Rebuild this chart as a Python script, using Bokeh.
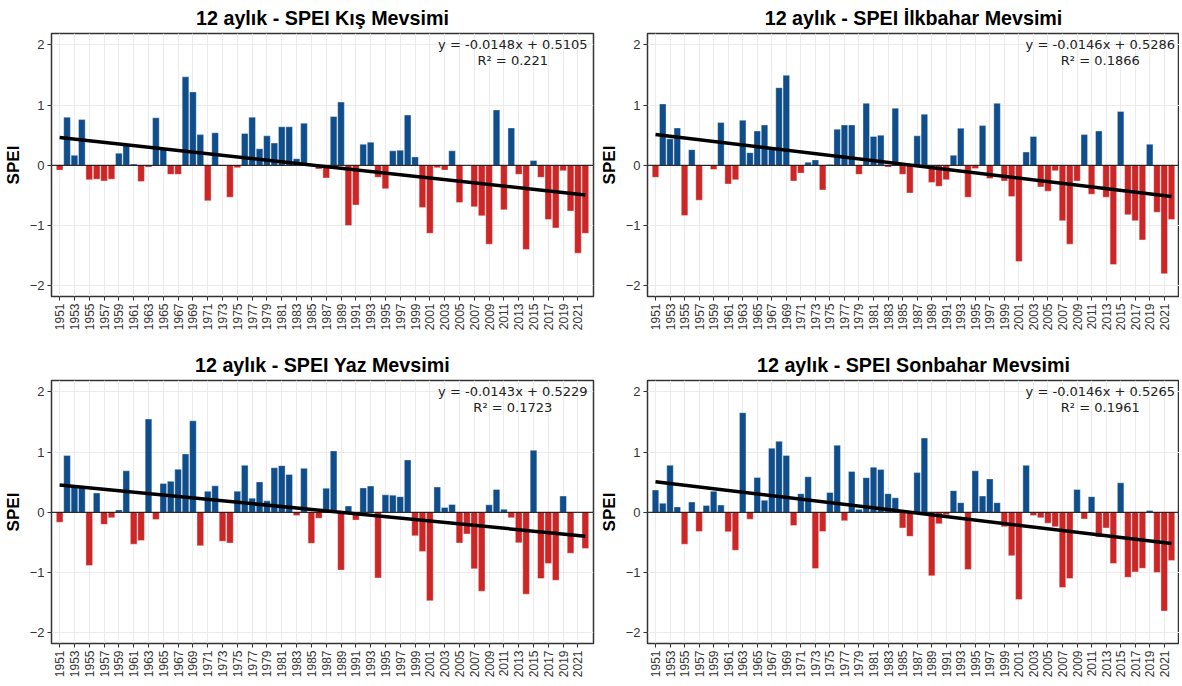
import numpy as np
from bokeh.plotting import figure
from bokeh.layouts import column, row
from bokeh.models import FixedTicker, Range1d, Span, Label, ColumnDataSource
from bokeh.embed import file_html
from bokeh.resources import INLINE

years = list(range(1951, 2023))

kis = [
    -0.08, 0.80, 0.165, 0.76, -0.24, -0.23, -0.26, -0.23, 0.20, 0.33,      # 1951-1960
    0.02, -0.27, -0.03, 0.79, 0.26, -0.15, -0.15, 1.47, 1.22, 0.51,        # 1961-1970
    -0.59, 0.54, -0.01, -0.53, -0.04, 0.53, 0.80, 0.275, 0.49, 0.37,       # 1971-1980
    0.64, 0.64, 0.11, 0.70, 0.01, -0.06, -0.21, 0.81, 1.05, -1.00,         # 1981-1990
    -0.66, 0.35, 0.385, -0.20, -0.39, 0.24, 0.25, 0.835, 0.14, -0.70,      # 1991-2000
    -1.13, -0.04, -0.08, 0.24, -0.62, 0.0, -0.69, -0.84, -1.31, 0.92,      # 2001-2010
    -0.74, 0.62, -0.15, -1.40, 0.08, -0.20, -0.90, -1.04, -0.09, -0.76,    # 2011-2020
    -1.46, -1.13,                                                          # 2021-2022
]

ilkbahar = [
    -0.20, 1.02, 0.44, 0.62, -0.835, 0.26, -0.58, -0.01, -0.07, 0.71,
    -0.31, -0.24, 0.75, 0.21, 0.57, 0.67, 0.27, 1.29, 1.495, -0.26,
    -0.13, 0.05, 0.09, -0.41, 0.015, 0.60, 0.67, 0.67, -0.15, 1.03,
    0.48, 0.50, -0.03, 0.95, -0.15, -0.46, 0.49, 0.85, -0.285, -0.35,
    -0.24, 0.165, 0.615, -0.53, -0.055, 0.66, -0.22, 1.03, -0.26, -0.52,
    -1.60, 0.22, 0.48, -0.36, -0.43, -0.09, -0.92, -1.31, -0.26, 0.51,
    -0.48, 0.57, -0.53, -1.65, 0.895, -0.82, -0.92, -1.24, 0.35, -0.78,
    -1.80, -0.90,
]

yaz = [
    -0.165, 0.945, 0.45, 0.41, -0.885, 0.32, -0.20, -0.09, 0.04, 0.69,
    -0.53, -0.47, 1.55, -0.12, 0.48, 0.515, 0.715, 0.97, 1.52, -0.555,
    0.35, 0.44, -0.48, -0.51, 0.35, 0.78, 0.235, 0.505, 0.19, 0.74,
    0.775, 0.63, -0.055, 0.73, -0.515, -0.10, 0.40, 1.02, -0.96, 0.105,
    -0.13, 0.405, 0.435, -1.09, 0.29, 0.285, 0.26, 0.87, -0.39, -0.65,
    -1.47, 0.42, 0.08, 0.13, -0.51, -0.36, -0.94, -1.31, 0.125, 0.38,
    0.05, -0.09, -0.505, -1.36, 1.03, -1.10, -0.85, -1.13, 0.27, -0.68,
    0.0, -0.60,
]

sonbahar = [
    0.37, 0.15, 0.78, 0.09, -0.53, 0.17, -0.32, 0.115, 0.35, 0.12,
    -0.325, -0.63, 1.655, -0.115, 0.58, 0.20, 1.065, 1.18, 0.945, -0.22,
    0.31, 0.59, -0.935, -0.32, 0.33, 1.115, -0.14, 0.68, 0.05, 0.575,
    0.75, 0.71, 0.31, 0.24, -0.26, -0.40, 0.66, 1.235, -1.055, -0.19,
    -0.04, 0.36, 0.16, -0.95, 0.69, 0.27, 0.555, 0.16, -0.24, -0.72,
    -1.45, 0.78, -0.055, -0.09, -0.18, -0.24, -1.25, -1.10, 0.38, -0.11,
    0.26, -0.41, -0.26, -0.85, 0.49, -1.08, -0.99, -0.93, 0.03, -1.00,
    -1.64, -0.80,
]

titles = [
    "12 aylık - SPEI Kış Mevsimi",
    "12 aylık - SPEI İlkbahar Mevsimi",
    "12 aylık - SPEI Yaz Mevsimi",
    "12 aylık - SPEI Sonbahar Mevsimi",
]
equations = [
    "y = -0.0148x + 0.5105",
    "y = -0.0146x + 0.5286",
    "y = -0.0143x + 0.5229",
    "y = -0.0146x + 0.5265",
]
r2_texts = ["R² = 0.221", "R² = 0.1866", "R² = 0.1723", "R² = 0.1961"]
x_tick_years = years[::2]
y_ticks = [-2, -1, 0, 1, 2]

BLUE = "#104E8B"
RED = "#CD2626"
FONT = "Liberation Sans"


def make_panel(title, vals, eq, r2, frame_w, mb_left, mb_right, mb_top, mb_bottom):
    p = figure(frame_width=frame_w, frame_height=263,
               x_range=Range1d(1949.9, 2023.1), y_range=Range1d(-2.18, 2.19),
               output_backend="svg", toolbar_location=None,
               min_border_left=mb_left, min_border_right=mb_right,
               min_border_top=mb_top, min_border_bottom=mb_bottom)
    p.background_fill_color = "white"
    p.border_fill_color = "white"
    p.outline_line_color = "#333333"
    p.outline_line_width = 1.5

    p.title.text = title
    p.title.align = "center"
    p.title.text_font = FONT
    p.title.text_font_size = "19.7px"
    p.title.text_font_style = "bold"
    p.title.text_color = "black"
    p.title.standoff = 9

    vals = list(vals)
    colors = [BLUE if v >= 0 else RED for v in vals]
    src = ColumnDataSource(dict(x=years, top=vals, color=colors))
    p.vbar(x="x", top="top", bottom=0, width=0.9, source=src,
           fill_color="color", line_color="white", line_width=0.6, line_alpha=0.6)

    p.add_layout(Span(location=0, dimension="width", line_color="black", line_width=1))

    idx = np.arange(1, len(vals) + 1)
    slope, intercept = np.polyfit(idx, np.array(vals), 1)
    p.line([years[0], years[-1]], [intercept + slope * idx[0], intercept + slope * idx[-1]],
           line_color="black", line_width=3.5)

    p.add_layout(Label(x=2012.2, y=2.0, text=eq, text_align="center", text_baseline="middle",
                       text_font="DejaVu Sans", text_font_size="13px", text_color="#222222"))
    p.add_layout(Label(x=2012.2, y=1.735, text=r2, text_align="center", text_baseline="middle",
                       text_font="DejaVu Sans", text_font_size="13px", text_color="#222222"))

    p.xaxis.ticker = FixedTicker(ticks=x_tick_years)
    p.xaxis.major_label_orientation = np.pi / 2
    p.xaxis.major_label_text_font = FONT
    p.xaxis.major_label_text_font_size = "12px"
    p.xaxis.major_label_text_color = "#333333"
    p.xaxis.major_label_standoff = 3

    p.yaxis.ticker = FixedTicker(ticks=y_ticks)
    p.yaxis.major_label_text_font = FONT
    p.yaxis.major_label_text_font_size = "13px"
    p.yaxis.major_label_text_color = "#333333"
    p.yaxis.major_label_standoff = 3
    p.yaxis.axis_label = "SPEI"
    p.yaxis.axis_label_text_font = FONT
    p.yaxis.axis_label_text_font_size = "17px"
    p.yaxis.axis_label_text_font_style = "bold"
    p.yaxis.axis_label_text_color = "black"
    p.yaxis.axis_label_standoff = 4

    for ax in (p.xaxis, p.yaxis):
        ax.axis_line_color = None
        ax.major_tick_line_color = "#333333"
        ax.major_tick_out = 4
        ax.major_tick_in = 0
        ax.minor_tick_line_color = None

    p.xgrid.ticker = FixedTicker(ticks=x_tick_years)
    p.ygrid.ticker = FixedTicker(ticks=y_ticks)
    p.xgrid.grid_line_color = "#EBEBEB"
    p.ygrid.grid_line_color = "#EBEBEB"
    p.xgrid.grid_line_width = 1
    p.ygrid.grid_line_width = 1
    return p


p1 = make_panel(titles[0], kis, equations[0], r2_texts[0], 542, 43, 3, 33, 51)
p2 = make_panel(titles[1], ilkbahar, equations[1], r2_texts[1], 532, 43, 0, 33, 51)
p3 = make_panel(titles[2], yaz, equations[2], r2_texts[2], 542, 43, 3, 33, 34)
p4 = make_panel(titles[3], sonbahar, equations[3], r2_texts[3], 532, 43, 0, 33, 34)

layout = column(row(p1, p2), row(p3, p4))

with open("out.html", "w") as f:
    f.write(file_html(layout, INLINE))
